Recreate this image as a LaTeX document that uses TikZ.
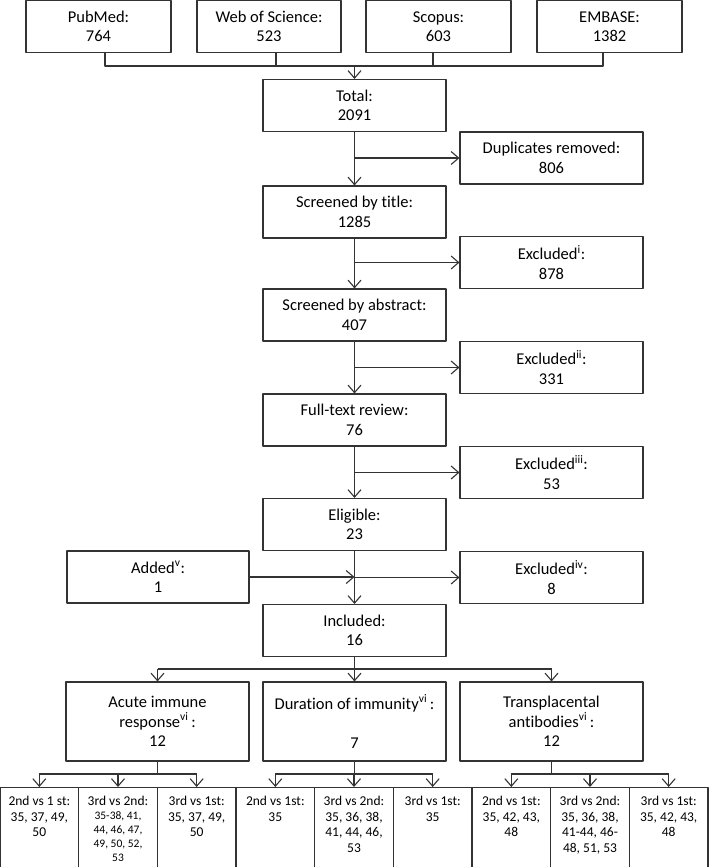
\documentclass[tikz,border=0pt]{standalone}
\usepackage{fontspec}
\setmainfont{Carlito}[Ligatures=NoCommon]
\usetikzlibrary{arrows.meta}
\newcommand{\smnum}{\fontsize{11.5}{14}\selectfont}
\newcommand{\celltext}[1]{\begin{tabular}[t]{@{}c@{}}#1\end{tabular}}
\tikzset{
  box/.style={draw=black!80,line width=1.1pt,minimum width=183pt,minimum height=52pt,inner sep=2pt,align=center,font=\fontsize{16.5}{19.5}\selectfont},
  cell/.style={draw=black!80,line width=1.1pt,minimum width=78.67pt,inner xsep=1pt,inner ysep=0pt,text height=18pt,text depth=62pt,anchor=north,font=\fontsize{13.5}{15.5}\selectfont},
  link/.style={draw=black!80,line width=1.1pt}
}
\begin{document}
\begin{tikzpicture}[x=1pt,y=-1pt,>={Straight Barb[length=7.5pt,width=13pt]},line join=round]
\useasboundingbox (0,0) rectangle (709,867);
% databases
\node[box,minimum width=145pt] (pub) at (98.5,26.5) {PubMed:\\764};
\node[box,minimum width=144pt] (wos) at (269,26.5) {Web of Science:\\523};
\node[box,minimum width=145pt] (sco) at (438.5,26.5) {Scopus:\\603};
\node[box,minimum width=145pt] (emb) at (609.5,26.5) {EMBASE:\\1382};
% main column
\node[box] (total) at (354.5,105.5) {Total:\\2091};
\node[box] (title) at (354.5,212) {Screened by title:\\1285};
\node[box] (abs) at (354.5,315) {Screened by abstract:\\407};
\node[box] (full) at (354.5,420) {Full-text review:\\76};
\node[box] (elig) at (354.5,524.5) {Eligible:\\23};
\node[box] (incl) at (354.5,630.5) {Included:\\16};
% side boxes
\node[box] (dup) at (551.5,158) {Duplicates removed:\\806};
\node[box] (exc1) at (551.5,262.5) {Excluded\textsuperscript{i}:\\878};
\node[box] (exc2) at (551.5,367.5) {Excluded\textsuperscript{ii}:\\331};
\node[box] (exc3) at (551.5,472.5) {Excluded\textsuperscript{iii}:\\53};
\node[box] (exc4) at (551.5,577.5) {Excluded\textsuperscript{iv}:\\8};
\node[box,minimum width=182pt] (added) at (158,577) {Added\textsuperscript{v}:\\1};
% outcomes
\node[box,minimum height=79pt] (acute) at (157.5,721.5) {Acute immune\\response\textsuperscript{vi}\,:\\12};
\node[box,minimum height=79pt] (dur) at (354.5,721.5) {Duration of immunity\textsuperscript{vi}\,:\\~\\7};
\node[box,minimum height=79pt] (trans) at (551.5,721.5) {Transplacental\\antibodies\textsuperscript{vi}\,:\\12};
% comparisons
\node[cell] (c1) at (39.33,787) {\celltext{2nd vs 1 st:\\35, 37, 49,\\50}};
\node[cell] (c2) at (118,787) {\celltext{3rd vs 2nd:\\[-1.5pt]\smnum 35-38, 41,\\[-1.5pt]\smnum 44, 46, 47,\\[-1.5pt]\smnum 49, 50, 52,\\[-1.5pt]\smnum 53}};
\node[cell] (c3) at (196.67,787) {\celltext{3rd vs 1st:\\35, 37, 49,\\50}};
\node[cell] (c4) at (275.33,787) {\celltext{2nd vs 1st:\\35}};
\node[cell] (c5) at (354,787) {\celltext{3rd vs 2nd:\\35, 36, 38,\\41, 44, 46,\\53}};
\node[cell] (c6) at (432.67,787) {\celltext{3rd vs 1st:\\35}};
\node[cell] (c7) at (511.33,787) {\celltext{2nd vs 1st:\\35, 42, 43,\\48}};
\node[cell] (c8) at (590,787) {\celltext{3rd vs 2nd:\\35, 36, 38,\\41-44, 46-\\48, 51, 53}};
\node[cell] (c9) at (668.67,787) {\celltext{3rd vs 1st:\\35, 42, 43,\\48}};
% junctions
\path (105,66) coordinate (j1) (276,66) coordinate (j2) (433,66) coordinate (j3) (603,66) coordinate (j4) (354.5,66) coordinate (jt);
\path (354.5,669) coordinate (ib) (157.5,774) coordinate (aj) (354.5,774) coordinate (dj) (551.5,774) coordinate (tj);
% connectors
\draw[link] (j1 |- pub.south) -- (j1) -- (j4) -- (j4 |- emb.south);
\draw[link] (j2 |- wos.south) -- (j2);
\draw[link] (j3 |- sco.south) -- (j3);
\draw[link,->] (jt) -- (total);
\draw[link,->] (total) -- (title);
\draw[link,->] (total |- dup) -- (dup);
\draw[link,->] (title) -- (abs);
\draw[link,->] (title |- exc1) -- (exc1);
\draw[link,->] (abs) -- (full);
\draw[link,->] (abs |- exc2) -- (exc2);
\draw[link,->] (full) -- (elig);
\draw[link,->] (full |- exc3) -- (exc3);
\draw[link,->] (elig) -- (incl);
\draw[link,->] (elig |- exc4) -- (exc4);
\draw[link,->] (added) -- (elig |- added);
\draw[link] (incl) -- (ib);
\draw[link] (acute |- ib) -- (trans |- ib);
\draw[link,->] (acute |- ib) -- (acute);
\draw[link,->] (ib) -- (dur);
\draw[link,->] (trans |- ib) -- (trans);
\draw[link] (acute) -- (aj);
\draw[link] (c1 |- aj) -- (c3 |- aj);
\draw[link] (dur) -- (dj);
\draw[link] (c4 |- aj) -- (c6 |- aj);
\draw[link] (trans) -- (tj);
\draw[link] (c7 |- aj) -- (c9 |- aj);
\foreach \c in {c1,c2,c3,c4,c5,c6,c7,c8,c9}
  \draw[link,->] (\c |- aj) -- (\c);
\end{tikzpicture}
\end{document}
